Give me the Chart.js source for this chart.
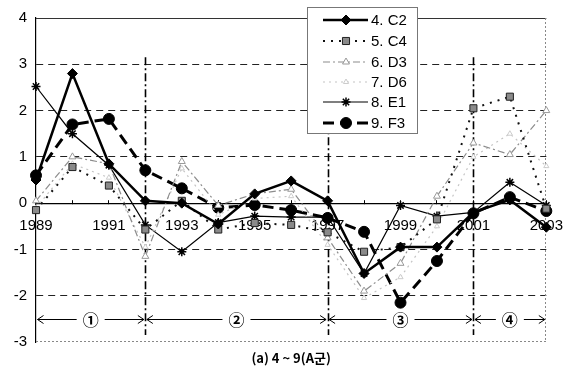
<!DOCTYPE html>
<html>
<head>
<meta charset="utf-8">
<script src="https://cdn.jsdelivr.net/npm/chart.js@4.4.1/dist/chart.umd.min.js"></script>
<style>
  html, body { margin: 0; padding: 0; background: #fff; }
  canvas { display: block; }
</style>
</head>
<body>
<canvas id="chart" width="581" height="372"></canvas>
<script>
// Years on the horizontal axis and the ones that carry a label
const years = [1989, 1990, 1991, 1992, 1993, 1994, 1995, 1996, 1997, 1998, 1999, 2000, 2001, 2002, 2003];
const labeledYears = [1989, 1991, 1993, 1995, 1997, 1999, 2001, 2003];

// Series names
const seriesNames = ['4. C2', '5. C4', '6. D3', '7. D6', '8. E1', '9. F3'];

// Series values per year
const c2 = [0.5, 2.8, 0.85, 0.05, 0.0, -0.45, 0.2, 0.48, 0.05, -1.52, -0.95, -0.95, -0.2, 0.07, -0.52];
const c4 = [-0.15, 0.78, 0.38, -0.57, 0.05, -0.57, -0.43, -0.47, -0.63, -1.05, -0.95, -0.35, 2.05, 2.3, -0.12];
const d3 = [0.05, 1.0, 0.85, -1.15, 0.9, -0.05, 0.2, 0.3, -0.75, -1.9, -1.3, 0.15, 1.3, 1.05, 2.0];
const d6 = [-0.1, 0.85, 0.55, -0.95, 0.75, -0.25, 0.1, 0.15, -0.9, -2.05, -1.6, -0.5, 1.0, 1.5, 0.8];
const e1 = [2.52, 1.5, 0.82, -0.47, -1.05, -0.42, -0.28, -0.3, -0.3, -1.52, -0.05, -0.28, -0.2, 0.45, -0.05];
const f3 = [0.6, 1.7, 1.82, 0.71, 0.32, -0.1, -0.04, -0.15, -0.32, -0.62, -2.15, -1.25, -0.22, 0.13, -0.17];

// Value axis range
const yMin = -3;
const yMax = 4;

// Period boundaries and their labels
const periodBreaks = [1992, 1997, 2001];
const periodLabels = ['①', '②', '③', '④'];
const periodArrowLevel = -2.5;
const periodLineTop = 3.15;
const periodLineBottom = -2.85;

const chartTitle = '(a) 4 ~ 9(A군)';

const FONT = "'Liberation Sans', Arial, sans-serif";

const styles = [
  { borderColor: '#000', borderWidth: 2.5, borderDash: [], pointStyle: 'rectRot', pointRadius: 5,
    pointBackgroundColor: '#000', pointBorderColor: '#000', pointBorderWidth: 1 },
  { borderColor: '#111', borderWidth: 2, borderDash: [2, 6], pointStyle: 'rect', pointRadius: 5,
    pointBackgroundColor: '#8a8a8a', pointBorderColor: '#222', pointBorderWidth: 1 },
  { borderColor: '#8c8c8c', borderWidth: 1.2, borderDash: [7, 3, 2, 3], pointStyle: 'triangle', pointRadius: 4,
    pointBackgroundColor: '#fff', pointBorderColor: '#999', pointBorderWidth: 1 },
  { borderColor: '#c4c4c4', borderWidth: 1.2, borderDash: [2, 4], pointStyle: 'triangle', pointRadius: 3,
    pointBackgroundColor: '#fff', pointBorderColor: '#ccc', pointBorderWidth: 1 },
  { borderColor: '#000', borderWidth: 1.2, borderDash: [], pointStyle: 'star', pointRadius: 4.5,
    pointBackgroundColor: '#000', pointBorderColor: '#000', pointBorderWidth: 1.5 },
  { borderColor: '#000', borderWidth: 3, borderDash: [11, 6], pointStyle: 'circle', pointRadius: 5.5,
    pointBackgroundColor: '#000', pointBorderColor: '#000', pointBorderWidth: 1 }
];

const seriesValues = [c2, c4, d3, d6, e1, f3];

const datasets = seriesValues.map((vals, i) => Object.assign({
  label: seriesNames[i],
  data: vals,
  fill: false,
  tension: 0,
  clip: false,
  borderCapStyle: 'butt',
  pointHoverRadius: styles[i].pointRadius
}, styles[i]));

// Frame, period separators and period arrows
const periodPlugin = {
  id: 'periods',
  beforeDatasetsDraw(chart) {
    const { ctx, chartArea: a, scales: { x, y } } = chart;
    ctx.save();
    // frame edges
    ctx.lineWidth = 1;
    ctx.strokeStyle = '#333';
    ctx.setLineDash([]);
    ctx.beginPath();
    ctx.moveTo(a.left, Math.round(a.top) + 0.5);
    ctx.lineTo(a.right, Math.round(a.top) + 0.5);
    ctx.stroke();
    ctx.strokeStyle = '#888';
    ctx.setLineDash([2, 2]);
    ctx.beginPath();
    ctx.moveTo(Math.round(a.right) - 0.5, a.top);
    ctx.lineTo(Math.round(a.right) - 0.5, a.bottom);
    ctx.moveTo(a.left, Math.round(a.bottom) - 0.5);
    ctx.lineTo(a.right, Math.round(a.bottom) - 0.5);
    ctx.stroke();

    // separators
    const px = yr => x.getPixelForValue(years.indexOf(yr));
    ctx.strokeStyle = '#000';
    ctx.lineWidth = 1.6;
    ctx.setLineDash([8, 3, 2, 3]);
    periodBreaks.forEach(yr => {
      const xx = Math.round(px(yr)) + 0.5;
      ctx.beginPath();
      ctx.moveTo(xx, y.getPixelForValue(periodLineTop));
      ctx.lineTo(xx, y.getPixelForValue(periodLineBottom));
      ctx.stroke();
    });

    // arrows with period numbers
    const bounds = [years[0]].concat(periodBreaks, [years[years.length - 1]]);
    const ay = Math.round(y.getPixelForValue(periodArrowLevel)) + 0.5;
    ctx.setLineDash([]);
    ctx.lineWidth = 1;
    ctx.font = "bold 16px 'Noto Sans CJK KR', 'DejaVu Sans', sans-serif";
    ctx.textAlign = 'center';
    ctx.textBaseline = 'middle';
    ctx.fillStyle = '#000';
    for (let i = 0; i < bounds.length - 1; i++) {
      const x0 = px(bounds[i]) + 1.5;
      const x1 = px(bounds[i + 1]) - 1.5;
      const mid = (x0 + x1) / 2;
      const gap = 14;
      ctx.beginPath();
      ctx.moveTo(x0, ay); ctx.lineTo(mid - gap, ay);
      ctx.moveTo(mid + gap, ay); ctx.lineTo(x1, ay);
      // arrow heads
      ctx.moveTo(x0 + 6, ay - 4); ctx.lineTo(x0, ay); ctx.lineTo(x0 + 6, ay + 4);
      ctx.moveTo(x1 - 6, ay - 4); ctx.lineTo(x1, ay); ctx.lineTo(x1 - 6, ay + 4);
      ctx.stroke();
      ctx.fillText(periodLabels[i], mid, ay);
    }
    ctx.restore();
  }
};

// Legend box drawn inside the plot
const boxLegendPlugin = {
  id: 'boxLegend',
  afterDraw(chart) {
    const { ctx } = chart;
    const bx = 307, by = 7, bw = 111, bh = 127;
    const rowY = [20, 41, 62, 82, 102, 123];
    ctx.save();
    ctx.fillStyle = '#fff';
    ctx.fillRect(bx, by, bw, bh);
    ctx.strokeStyle = '#777';
    ctx.lineWidth = 1;
    ctx.setLineDash([]);
    ctx.strokeRect(bx + 0.5, by + 0.5, bw - 1, bh - 1);
    chart.data.datasets.forEach((ds, i) => {
      const yy = rowY[i];
      ctx.strokeStyle = ds.borderColor;
      ctx.lineWidth = ds.borderWidth;
      ctx.setLineDash(ds.borderDash || []);
      ctx.beginPath();
      ctx.moveTo(323, yy);
      ctx.lineTo(368, yy);
      ctx.stroke();
      ctx.setLineDash([]);
      ctx.fillStyle = ds.pointBackgroundColor;
      ctx.strokeStyle = ds.pointBorderColor;
      ctx.lineWidth = ds.pointBorderWidth;
      if (Chart.helpers && Chart.helpers.drawPoint) {
        Chart.helpers.drawPoint(ctx, {
          pointStyle: ds.pointStyle, radius: ds.pointRadius,
          borderWidth: ds.pointBorderWidth, rotation: 0
        }, 346, yy);
      } else {
        ctx.beginPath();
        ctx.arc(346, yy, ds.pointRadius, 0, Math.PI * 2);
        ctx.fill();
        ctx.stroke();
      }
      ctx.fillStyle = '#000';
      ctx.font = '15px ' + FONT;
      ctx.textAlign = 'left';
      ctx.textBaseline = 'middle';
      ctx.fillText(ds.label, 371, yy + 1);
    });
    ctx.restore();
  }
};

new Chart(document.getElementById('chart'), {
  type: 'line',
  data: { labels: years.map(String), datasets },
  options: {
    responsive: false,
    animation: false,
    devicePixelRatio: 1,
    layout: { padding: { left: 0, right: 24.5, top: 13, bottom: 0 } },
    plugins: {
      legend: { display: false },
      tooltip: { enabled: false },
      title: {
        display: true,
        fullSize: false,
        position: 'bottom',
        text: chartTitle,
        color: '#000',
        font: { family: "'Noto Sans CJK KR', sans-serif", size: 13, weight: 'bold' },
        padding: { top: 8, bottom: 6.4 }
      }
    },
    scales: {
      x: {
        type: 'category',
        offset: false,
        position: { y: 0 },
        grid: { drawOnChartArea: false, drawTicks: true, tickLength: -4, color: '#000', lineWidth: 1 },
        border: { display: true, color: '#000', width: 1.2 },
        ticks: {
          autoSkip: false,
          maxRotation: 0,
          padding: 18,
          color: '#000',
          font: { family: FONT, size: 15 },
          callback(value, index) {
            const yr = years[index];
            return labeledYears.includes(yr) ? String(yr) : '';
          }
        },
        afterFit(scale) { scale.height = 0; }
      },
      y: {
        type: 'linear',
        min: yMin,
        max: yMax,
        grid: {
          drawTicks: false,
          lineWidth: 1,
          color(ctx) {
            const v = ctx.tick ? ctx.tick.value : null;
            return (v === yMin || v === yMax || v === 0) ? 'rgba(0,0,0,0)' : '#222';
          }
        },
        border: { display: true, color: '#000', width: 1.2, dash: [7, 5] },
        ticks: {
          stepSize: 1,
          padding: 9,
          color: '#000',
          font: { family: FONT, size: 15 }
        },
        afterFit(scale) { scale.width = 36; }
      }
    }
  },
  plugins: [periodPlugin, boxLegendPlugin]
});
</script>
</body>
</html>
